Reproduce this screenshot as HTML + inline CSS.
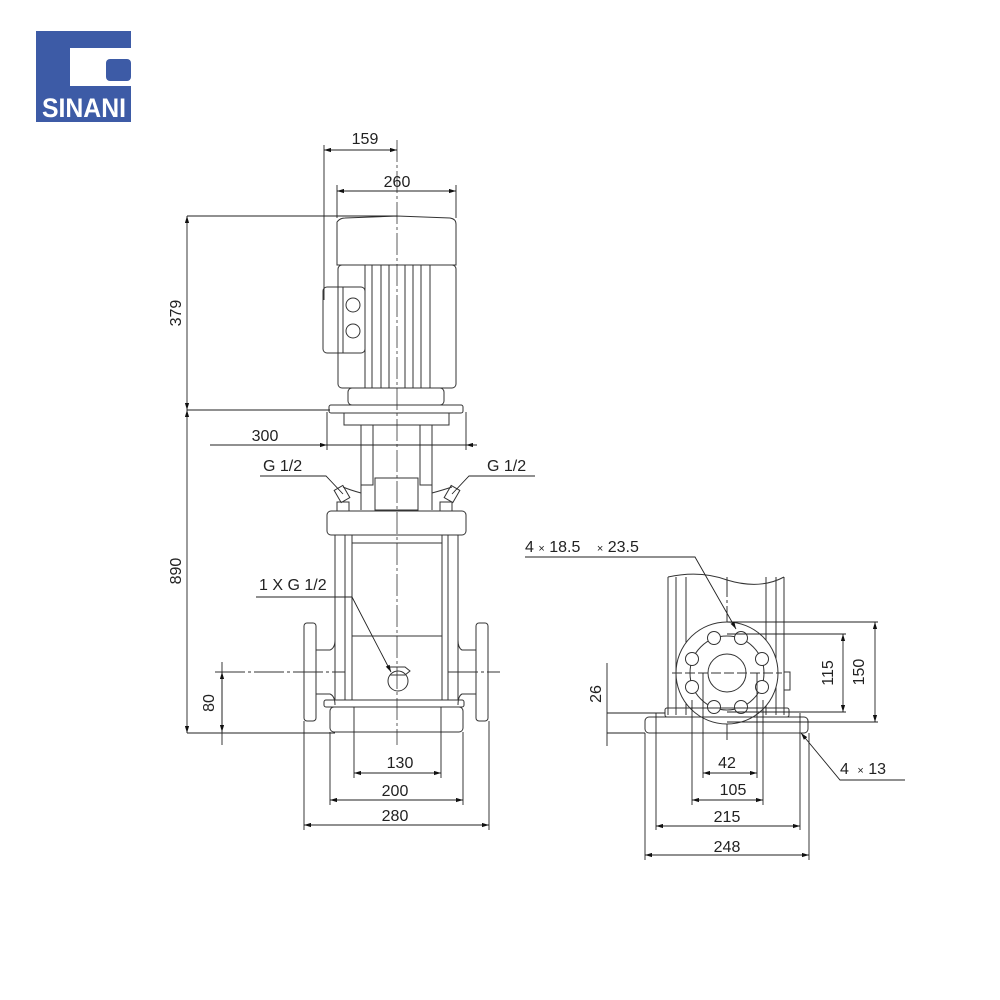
<!DOCTYPE html>
<html><head><style>html,body{margin:0;padding:0;background:#fff}svg{display:block}</style></head><body>
<svg width="1000" height="1000" viewBox="0 0 1000 1000" xmlns="http://www.w3.org/2000/svg" font-family="Liberation Sans, sans-serif" font-size="16" fill="none" stroke="#222" stroke-width="1">
<defs>
<marker id="a" viewBox="0 0 10 6" refX="10" refY="3" markerWidth="8" markerHeight="5" orient="auto-start-reverse"><path d="M0 0L10 3L0 6z" fill="#111" stroke="none"/></marker>
</defs>
<!-- logo -->
<rect x="36" y="31" width="95" height="91" fill="#3d5ba6" stroke="none"/>
<rect x="70" y="48" width="61" height="38" fill="#fff" stroke="none"/>
<rect x="106" y="59" width="25" height="22" rx="4" fill="#3d5ba6" stroke="none"/>
<text x="84" y="117" fill="#fff" stroke="none" font-weight="bold" font-size="27" text-anchor="middle" textLength="84" lengthAdjust="spacingAndGlyphs">SINANI</text>

<!-- LEFT PUMP -->
<g stroke="#333">
<line x1="397" y1="140" x2="397" y2="745" stroke-dasharray="22,3,3,3" stroke-width="0.8"/>
<path d="M337 222 Q340 218 345 218 L397 216 L450 218 Q456 219 456 224 L456 265 L337 265 Z"/>
<rect x="338" y="265" width="118" height="123" rx="4"/>
<line x1="365" y1="265" x2="365" y2="388"/>
<line x1="372" y1="265" x2="372" y2="388"/><line x1="381" y1="265" x2="381" y2="388"/><line x1="389" y1="265" x2="389" y2="388"/>
<line x1="405" y1="265" x2="405" y2="388"/><line x1="413" y1="265" x2="413" y2="388"/><line x1="421" y1="265" x2="421" y2="388"/><line x1="430" y1="265" x2="430" y2="388"/>
<rect x="323" y="287" width="42" height="66" rx="4"/>
<line x1="343" y1="287" x2="343" y2="353"/>
<circle cx="353" cy="305" r="7"/><circle cx="353" cy="331" r="7"/>
<rect x="348" y="388" width="96" height="17" rx="4"/>
<rect x="329" y="405" width="134" height="8" rx="2"/>
<rect x="344" y="413" width="105" height="12"/>
<rect x="361" y="425" width="12" height="60"/><rect x="420" y="425" width="12" height="60"/>
<line x1="361" y1="485" x2="361" y2="510"/><line x1="432" y1="485" x2="432" y2="510"/>
<rect x="375" y="478" width="43" height="32"/>
<path d="M361 493 Q350 490 343 487 M432 493 Q443 490 452 487"/>
<rect x="337" y="487" width="10" height="14" transform="rotate(-30 342 494)"/>
<rect x="447" y="487" width="10" height="14" transform="rotate(30 452 494)"/>
<rect x="337" y="502" width="12" height="9"/><rect x="440" y="502" width="12" height="9"/>
<rect x="327" y="511" width="139" height="24" rx="4"/>
<rect x="335" y="535" width="10" height="165"/><rect x="448" y="535" width="10" height="165"/>
<line x1="352" y1="535" x2="352" y2="700"/><line x1="442" y1="535" x2="442" y2="700"/>
<line x1="352" y1="543" x2="442" y2="543"/><line x1="352" y1="636" x2="442" y2="636"/>
<line x1="352" y1="700" x2="442" y2="700" stroke-dasharray="3,2"/>
<rect x="324" y="700" width="140" height="7" rx="2"/>
<rect x="330" y="707" width="133" height="25" rx="4"/>
<rect x="304" y="623" width="12" height="98" rx="3"/><rect x="476" y="623" width="12" height="98" rx="3"/>
<path d="M316 650 L330 650 Q335 648 335 640 M316 694 L330 694 Q335 696 335 705"/>
<path d="M476 650 L462 650 Q458 648 458 640 M476 694 L462 694 Q458 696 458 705"/>
<circle cx="398" cy="681" r="10"/>
<path d="M390 667 L405 667 L410 671 L405 675 L390 675"/>
<line x1="215" y1="672" x2="345" y2="672" stroke-dasharray="30,3,3,3"/>
<line x1="448" y1="672" x2="500" y2="672" stroke-dasharray="30,3,3,3"/>
</g>
<!-- left dims -->
<g stroke="#222" stroke-width="0.9">
<line x1="324" y1="145" x2="324" y2="300"/>
<line x1="337" y1="185" x2="337" y2="218"/><line x1="456" y1="185" x2="456" y2="218"/>
<line x1="324" y1="150" x2="397" y2="150" marker-start="url(#a)" marker-end="url(#a)"/>
<line x1="337" y1="191" x2="456" y2="191" marker-start="url(#a)" marker-end="url(#a)"/>
<line x1="187" y1="216" x2="397" y2="216"/><line x1="187" y1="410" x2="330" y2="410"/>
<line x1="187" y1="216" x2="187" y2="410" marker-start="url(#a)" marker-end="url(#a)"/>
<line x1="187" y1="410" x2="187" y2="733" marker-start="url(#a)" marker-end="url(#a)"/>
<line x1="187" y1="733" x2="335" y2="733"/>
<line x1="210" y1="445" x2="477" y2="445"/>
<line x1="327" y1="412" x2="327" y2="450"/><line x1="466" y1="412" x2="466" y2="450"/>
<path d="M318 445 L327 445" marker-end="url(#a)"/><path d="M475 445 L466 445" marker-end="url(#a)"/>
<path d="M260 476 L326 476 L343 494"/>
<path d="M535 476 L469 476 L452 494"/>
<path d="M256 597 L352 597 L391 672" marker-end="url(#a)"/>
<line x1="222" y1="662" x2="222" y2="745"/>
<line x1="222" y1="672" x2="222" y2="732" marker-start="url(#a)" marker-end="url(#a)"/>
<line x1="354" y1="707" x2="354" y2="778"/><line x1="441" y1="707" x2="441" y2="778"/>
<line x1="330" y1="732" x2="330" y2="805"/><line x1="463" y1="732" x2="463" y2="805"/>
<line x1="304" y1="721" x2="304" y2="830"/><line x1="489" y1="721" x2="489" y2="830"/>
<line x1="354" y1="773" x2="441" y2="773" marker-start="url(#a)" marker-end="url(#a)"/>
<line x1="330" y1="800" x2="463" y2="800" marker-start="url(#a)" marker-end="url(#a)"/>
<line x1="304" y1="825" x2="489" y2="825" marker-start="url(#a)" marker-end="url(#a)"/>
</g>
<g fill="#222" stroke="none">
<text x="365" y="144" text-anchor="middle">159</text>
<text x="397" y="187" text-anchor="middle">260</text>
<text x="265" y="441" text-anchor="middle">300</text>
<text x="263" y="471">G 1/2</text>
<text x="487" y="471">G 1/2</text>
<text x="259" y="590">1 X G 1/2</text>
<text x="181" y="313" text-anchor="middle" transform="rotate(-90 181 313)">379</text>
<text x="181" y="571" text-anchor="middle" transform="rotate(-90 181 571)">890</text>
<text x="214" y="703" text-anchor="middle" transform="rotate(-90 214 703)">80</text>
<text x="400" y="768" text-anchor="middle">130</text>
<text x="395" y="796" text-anchor="middle">200</text>
<text x="395" y="821" text-anchor="middle">280</text>
</g>

<!-- RIGHT VIEW -->
<g stroke="#333">
<path d="M668 577 Q700 570 727 580 Q760 590 784 577"/>
<line x1="668" y1="577" x2="668" y2="715"/><line x1="676" y1="577" x2="676" y2="715"/>
<line x1="784" y1="577" x2="784" y2="715"/><line x1="776" y1="577" x2="776" y2="715"/>
<line x1="686" y1="577" x2="686" y2="715"/><line x1="766" y1="577" x2="766" y2="715"/>
<line x1="727" y1="577" x2="727" y2="740" stroke-dasharray="20,3,3,3"/>
<circle cx="727" cy="673" r="51" fill="#fff"/>
<circle cx="727" cy="673" r="37"/>
<circle cx="727" cy="673" r="19"/>
<g fill="#fff">
<circle cx="714" cy="638" r="6.5"/><circle cx="741" cy="638" r="6.5"/>
<circle cx="762" cy="659" r="6.5"/><circle cx="762" cy="687" r="6.5"/>
<circle cx="741" cy="707" r="6.5"/><circle cx="714" cy="707" r="6.5"/>
<circle cx="692" cy="687" r="6.5"/><circle cx="692" cy="659" r="6.5"/>
</g>
<line x1="672" y1="673" x2="782" y2="673" stroke-dasharray="10,3"/>
<rect x="784" y="672" width="6" height="18"/>
<rect x="665" y="708" width="124" height="9" rx="2"/>
<rect x="645" y="717" width="163" height="16" rx="4"/>
</g>
<g stroke="#222" stroke-width="0.9">
<line x1="727" y1="622" x2="878" y2="622"/><line x1="727" y1="634" x2="846" y2="634"/>
<line x1="727" y1="712" x2="846" y2="712"/><line x1="727" y1="722" x2="878" y2="722"/>
<line x1="843" y1="634" x2="843" y2="712" marker-start="url(#a)" marker-end="url(#a)"/>
<line x1="875" y1="622" x2="875" y2="722" marker-start="url(#a)" marker-end="url(#a)"/>
<line x1="607" y1="663" x2="607" y2="746"/>
<line x1="607" y1="713" x2="665" y2="713"/><line x1="607" y1="733" x2="645" y2="733"/>
<line x1="703" y1="673" x2="703" y2="778"/><line x1="757" y1="673" x2="757" y2="778"/>
<line x1="692" y1="700" x2="692" y2="805"/><line x1="763" y1="700" x2="763" y2="805"/>
<line x1="656" y1="713" x2="656" y2="830"/><line x1="800" y1="713" x2="800" y2="830"/>
<line x1="645" y1="733" x2="645" y2="860"/><line x1="809" y1="733" x2="809" y2="860"/>
<line x1="703" y1="773" x2="757" y2="773" marker-start="url(#a)" marker-end="url(#a)"/>
<line x1="692" y1="800" x2="763" y2="800" marker-start="url(#a)" marker-end="url(#a)"/>
<line x1="656" y1="826" x2="800" y2="826" marker-start="url(#a)" marker-end="url(#a)"/>
<line x1="645" y1="855" x2="809" y2="855" marker-start="url(#a)" marker-end="url(#a)"/>
<path d="M525 557 L695 557 L736 629" marker-end="url(#a)"/>
<path d="M905 780 L840 780 L801 733" marker-end="url(#a)"/>
</g>
<g fill="#222" stroke="none">
<text x="525" y="552">4 <tspan font-size="11">×</tspan> 18.5 <tspan dx="12" font-size="11">×</tspan> 23.5</text>
<text x="840" y="774">4 <tspan dx="4" font-size="11">×</tspan> 13</text>
<text x="601" y="694" text-anchor="middle" transform="rotate(-90 601 694)">26</text>
<text x="833" y="673" text-anchor="middle" transform="rotate(-90 833 673)">115</text>
<text x="864" y="672" text-anchor="middle" transform="rotate(-90 864 672)">150</text>
<text x="727" y="768" text-anchor="middle">42</text>
<text x="733" y="795" text-anchor="middle">105</text>
<text x="727" y="822" text-anchor="middle">215</text>
<text x="727" y="852" text-anchor="middle">248</text>
</g>
</svg>
</body></html>
